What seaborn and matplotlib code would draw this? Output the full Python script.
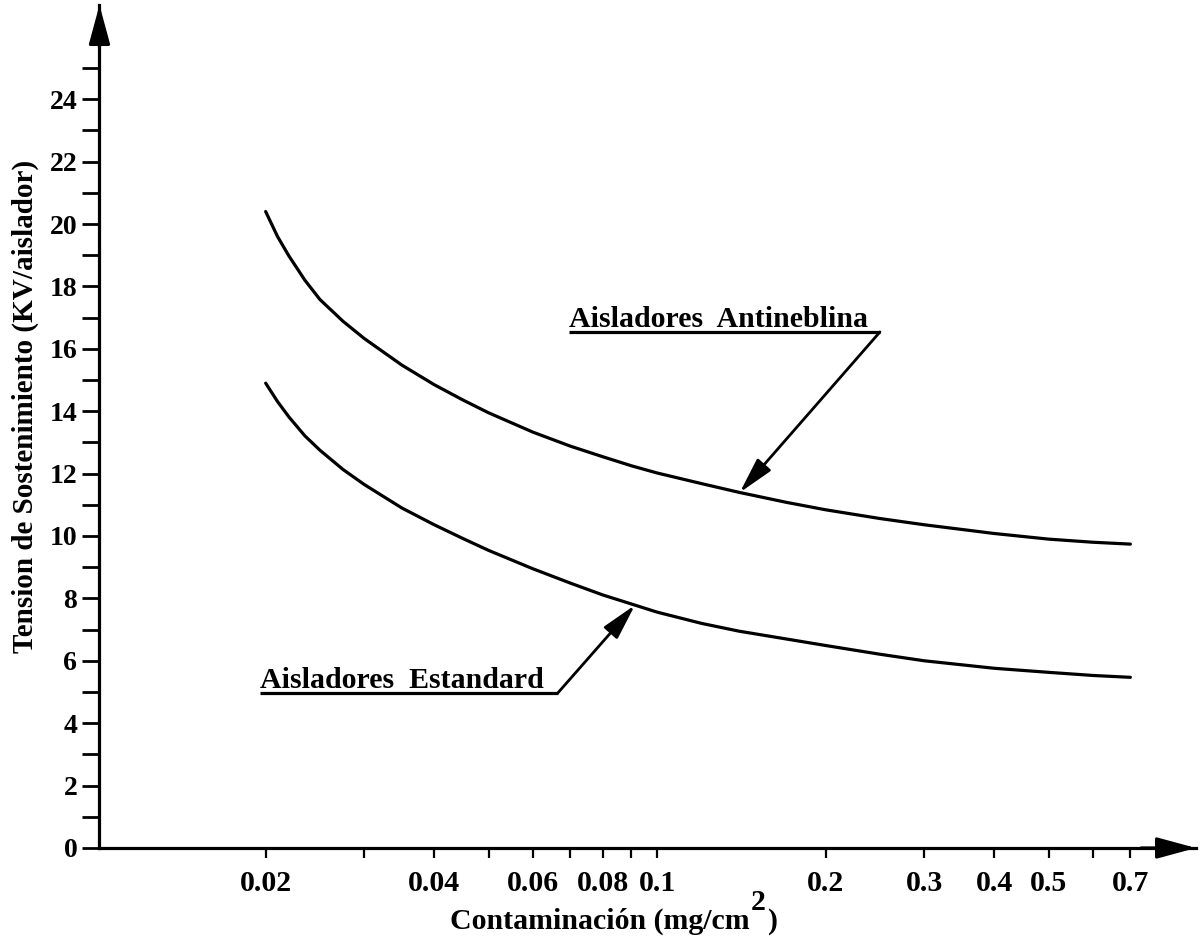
import numpy as np
import pandas as pd
import matplotlib
matplotlib.use("Agg")
import matplotlib.pyplot as plt
from matplotlib.ticker import FixedLocator, FixedFormatter, NullLocator
import seaborn as sns

# Contamination levels (mg/cm2) and withstand voltage (kV per insulator)
contamination = [0.02, 0.021, 0.022, 0.0235, 0.025, 0.0275, 0.03, 0.035,
                 0.04, 0.045, 0.05, 0.06, 0.07, 0.08, 0.09, 0.1, 0.12,
                 0.14, 0.17, 0.2, 0.25, 0.3, 0.4, 0.5, 0.6, 0.7]
antineblina = [20.4, 19.6, 18.98, 18.2, 17.58, 16.88, 16.33, 15.48,
               14.85, 14.36, 13.95, 13.33, 12.88, 12.54, 12.25, 12.02, 11.68,
               11.40, 11.08, 10.84, 10.56, 10.36, 10.08, 9.90, 9.80, 9.74]
estandard = [14.9, 14.31, 13.82, 13.21, 12.75, 12.13, 11.65, 10.9,
             10.36, 9.92, 9.54, 8.95, 8.49, 8.11, 7.82, 7.56, 7.2,
             6.95, 6.70, 6.49, 6.21, 6.00, 5.76, 5.63, 5.53, 5.47]

series_names = ["Aisladores  Antineblina", "Aisladores  Estandard"]

x_ticks = [0.02, 0.03, 0.04, 0.05, 0.06, 0.07, 0.08, 0.09,
           0.1, 0.2, 0.3, 0.4, 0.5, 0.6, 0.7]
x_tick_labels = ["0.02", "", "0.04", "", "0.06", "", "0.08", "",
                 "0.1", "0.2", "0.3", "0.4", "0.5", "", "0.7"]
y_major = list(range(0, 25, 2))
y_minor = list(range(1, 26, 2))

x_label = "Contaminación (mg/cm"
x_label_sup = "2"
x_label_close = ")"
y_label = "Tension de Sostenimiento (KV/aislador)"

df = pd.concat([
    pd.DataFrame({"x": contamination, "y": antineblina, "serie": series_names[0]}),
    pd.DataFrame({"x": contamination, "y": estandard, "serie": series_names[1]}),
])

sns.set_style("white")
plt.rcParams["font.family"] = ["Liberation Serif", "DejaVu Serif"]
plt.rcParams["font.weight"] = "bold"
plt.rcParams["text.color"] = "black"
plt.rcParams["axes.labelcolor"] = "black"
plt.rcParams["xtick.color"] = "black"
plt.rcParams["ytick.color"] = "black"
plt.rcParams["xtick.labelcolor"] = "black"
plt.rcParams["ytick.labelcolor"] = "black"

fig = plt.figure(figsize=(12, 9.42), dpi=100)
ax = fig.add_axes([0.0829, 0.0998, 0.9138, 0.8949])

sns.lineplot(data=df, x="x", y="y", hue="serie", palette=["black", "black"],
             linewidth=2.3, legend=False, ax=ax, sort=True)

ax.set_xscale("log")
ax.set_xlim(0.0101, 0.917)
ax.set_ylim(0, 27.02)
ax.set_xlabel("")
ax.set_ylabel("")

ax.xaxis.set_major_locator(FixedLocator(x_ticks))
ax.xaxis.set_major_formatter(FixedFormatter(x_tick_labels))
ax.xaxis.set_minor_locator(NullLocator())
ax.yaxis.set_major_locator(FixedLocator(y_major))
ax.yaxis.set_minor_locator(FixedLocator(y_minor))

ax.tick_params(axis="y", which="both", direction="out", length=12, width=2,
               labelsize=20, pad=4, color="black", labelcolor="black",
               left=True)
ax.tick_params(axis="x", which="both", direction="out", length=7, width=1.6,
               labelsize=21.5, pad=9, color="black", labelcolor="black",
               bottom=True)
for lab in ax.get_xticklabels() + ax.get_yticklabels():
    lab.set_fontweight("bold")

for side in ("top", "right"):
    ax.spines[side].set_visible(False)
for side in ("left", "bottom"):
    ax.spines[side].set_linewidth(2.3)
    ax.spines[side].set_color("black")

# arrowheads at the ends of both axes
axis_arrow = dict(arrowstyle="-|>,head_length=2.4,head_width=0.65",
                  color="black", lw=2.3, shrinkA=0, shrinkB=0)
ax.annotate("", xy=(1, 0), xytext=(0.95, 0), xycoords="axes fraction",
            arrowprops=axis_arrow, annotation_clip=False)
ax.annotate("", xy=(0, 1), xytext=(0, 0.95), xycoords="axes fraction",
            arrowprops=axis_arrow, annotation_clip=False)

# callout labels with underline and pointer arrow
pointer = dict(arrowstyle="-|>,head_length=2.2,head_width=0.55",
               color="black", lw=2.0, shrinkA=0, shrinkB=0)


def callout(text, x_left, x_right, y_line, x_tip, values):
    y_tip = np.interp(np.log10(x_tip), np.log10(contamination), values)
    ax.text(x_left, y_line + 0.16, text, fontsize=21.5, fontweight="bold",
            color="black", ha="left", va="baseline")
    ax.plot([x_left, x_right], [y_line, y_line], color="black", lw=2.3,
            solid_capstyle="butt")
    ax.annotate("", xy=(x_tip, y_tip), xytext=(x_right, y_line),
                arrowprops=pointer)


callout(series_names[0], 0.0696, 0.250, 16.54, 0.1405, antineblina)
callout(series_names[1], 0.01953, 0.0665, 4.97, 0.0913, estandard)

# axis titles
fig.text(450 / 1200, 1 - 929 / 942, x_label, fontsize=21.5, fontweight="bold",
         color="black", ha="left", va="baseline")
fig.text(758.5 / 1200, 1 - 910 / 942, x_label_sup, fontsize=21.5,
         fontweight="bold", color="black", ha="center", va="baseline")
fig.text(767 / 1200, 1 - 929 / 942, x_label_close, fontsize=21.5,
         fontweight="bold", color="black", ha="left", va="baseline")
fig.text(25 / 1200, 1 - 406 / 942, y_label, fontsize=21, fontweight="bold",
         color="black", rotation=90, ha="center", va="center")

fig.savefig("out.png", dpi=100, facecolor="white")
